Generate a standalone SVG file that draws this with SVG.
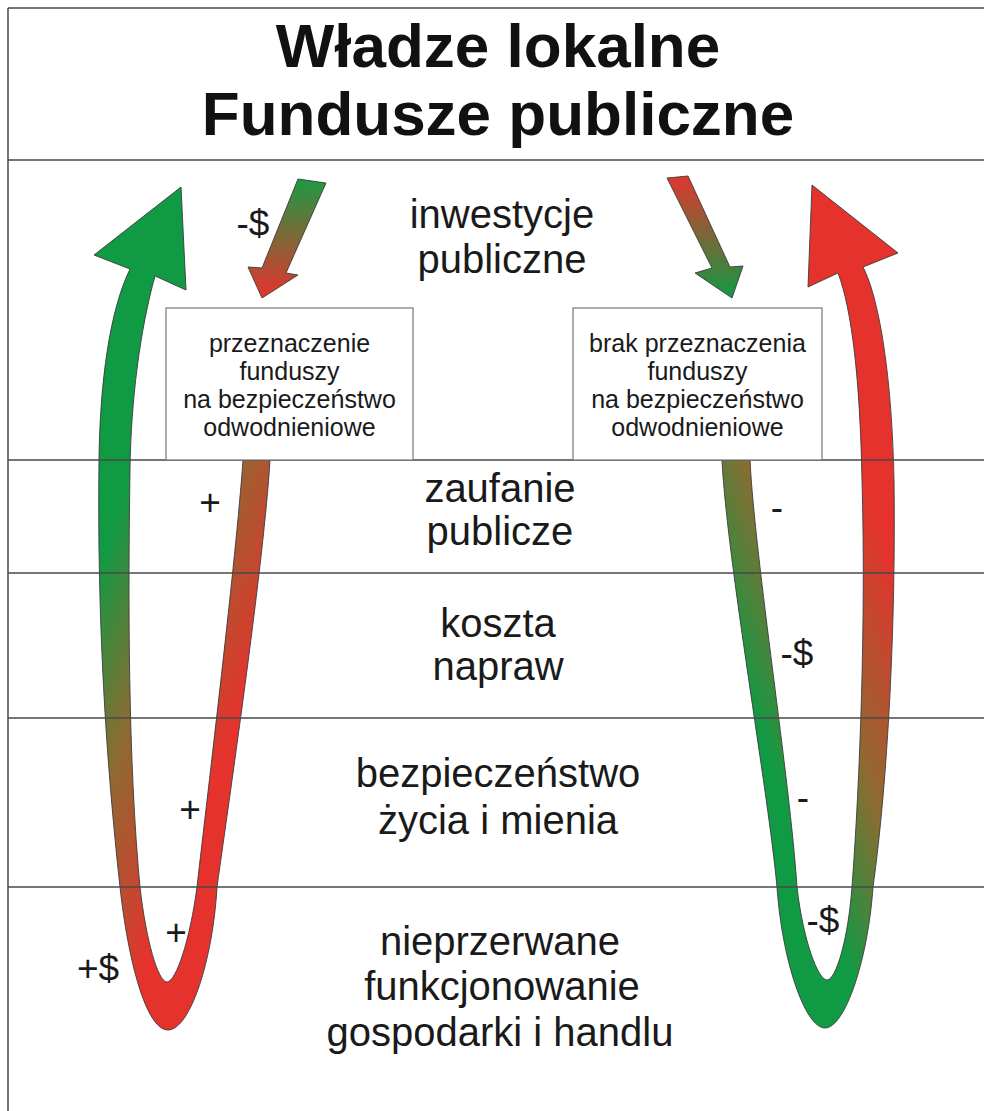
<svg xmlns="http://www.w3.org/2000/svg" width="984" height="1111" viewBox="0 0 984 1111">
<defs>
<style>
.frame{stroke:#4a4a4a;stroke-width:1.5;fill:none}
.box{fill:#fff;stroke:#777;stroke-width:1.2}
.t{font-family:"Liberation Sans",Arial,sans-serif;fill:#1a1a1a;text-anchor:middle}
.title{font-size:62px;font-weight:bold;fill:#111}
.row{font-size:40px}
.bx{font-size:25px}
.sym{font-size:37px}
.arr{stroke:#3b3b3b;stroke-width:0.9;stroke-linejoin:miter}
</style>
<linearGradient id="gL" gradientUnits="userSpaceOnUse" x1="271.7" y1="101.5" x2="445" y2="166.3">
<stop offset="0" stop-color="#109a44"/>
<stop offset="0.45" stop-color="#8c6b32"/>
<stop offset="1" stop-color="#e6322d"/>
</linearGradient>
<linearGradient id="gR" gradientUnits="userSpaceOnUse" x1="721.3" y1="101.5" x2="548" y2="166.3">
<stop offset="0" stop-color="#e6322d"/>
<stop offset="0.55" stop-color="#8c6b32"/>
<stop offset="1" stop-color="#109a44"/>
</linearGradient>
<linearGradient id="gS1" x1="0" y1="0" x2="0" y2="1">
<stop offset="0" stop-color="#1c9a42"/>
<stop offset="1" stop-color="#e6322d"/>
</linearGradient>
<linearGradient id="gS2" x1="0" y1="0" x2="0" y2="1">
<stop offset="0" stop-color="#e0362d"/>
<stop offset="1" stop-color="#109a44"/>
</linearGradient>
</defs>
<rect x="0" y="0" width="984" height="1111" fill="#fff"/>

<g id="connectors">
<path class="arr" fill="url(#gL)" d="M181,187 L186,290 L155,276 C140,330 131,400 130,470 C128,600 128,760 140,887 C146,940 158,982 167,982 C176,982 190,940 197,887 C208,790 236,560 243,460 L270,460 C264,560 232,780 217,887 C213,960 190,1030 168,1030 C146,1030 128,960 120,887 C106,760 97,620 99,460 C100,380 110,310 130,269 L94,255 Z"/>
<path class="arr" fill="url(#gR)" d="M812,185 L898,253 L863,267 C880,300 892,380 894,480 C896,620 888,780 873,887 C868,960 845,1028 825,1028 C805,1028 782,960 777,887 C768,790 727,560 722,460 L750,460 C755,560 790,780 797,887 C803,940 818,980 827,980 C836,980 848,940 852,887 C860,780 866,620 862,480 C860,380 852,310 838,273 L808,287 Z"/>
<polygon class="arr" fill="url(#gS1)" points="298,179 326,183 286,273 298,275 262,298 248,267 262,268"/>
<polygon class="arr" fill="url(#gS2)" points="667,178 688,176 730,267 743,266 732,298 695,273 712,268"/>
</g>

<g id="grid">
<path class="frame" d="M8,8 H984 M8,8 V1111 M8,160 H984 M8,460 H984 M8,573 H984 M8,718 H984 M8,887 H984"/>
</g>

<g id="title">
<text class="t title" x="498" y="67">Władze lokalne</text>
<text class="t title" x="498" y="135">Fundusze publiczne</text>
</g>

<g id="row-inwestycje">
<text class="t row" x="502" y="228">inwestycje</text>
<text class="t row" x="502" y="273">publiczne</text>
</g>
<g id="row-zaufanie">
<text class="t row" x="500" y="502">zaufanie</text>
<text class="t row" x="500" y="545">publicze</text>
</g>
<g id="row-koszta">
<text class="t row" x="498" y="637">koszta</text>
<text class="t row" x="498" y="680">napraw</text>
</g>
<g id="row-bezpieczenstwo">
<text class="t row" x="498" y="787">bezpieczeństwo</text>
<text class="t row" x="498" y="834">życia i mienia</text>
</g>
<g id="row-gospodarka">
<text class="t row" x="500" y="955">nieprzerwane</text>
<text class="t row" x="502" y="1000">funkcjonowanie</text>
<text class="t row" x="500" y="1046">gospodarki i handlu</text>
</g>

<g id="box-left">
<rect class="box" x="166" y="308" width="247" height="152"/>
<text class="t bx" x="289.5" y="352">przeznaczenie</text>
<text class="t bx" x="289.5" y="380">funduszy</text>
<text class="t bx" x="289.5" y="408">na bezpieczeństwo</text>
<text class="t bx" x="289.5" y="436">odwodnieniowe</text>
</g>
<g id="box-right">
<rect class="box" x="573" y="308" width="249" height="152"/>
<text class="t bx" x="697.5" y="352">brak przeznaczenia</text>
<text class="t bx" x="697.5" y="380">funduszy</text>
<text class="t bx" x="697.5" y="408">na bezpieczeństwo</text>
<text class="t bx" x="697.5" y="436">odwodnieniowe</text>
</g>

<g id="labels">
<text class="t sym" x="253" y="236">-$</text>
<text class="t sym" x="210" y="515">+</text>
<text class="t sym" x="777" y="520">-</text>
<text class="t sym" x="797" y="666">-$</text>
<text class="t sym" x="190" y="822">+</text>
<text class="t sym" x="803" y="810">-</text>
<text class="t sym" x="176" y="945">+</text>
<text class="t sym" x="98" y="981">+$</text>
<text class="t sym" x="823" y="933">-$</text>
</g>
</svg>
